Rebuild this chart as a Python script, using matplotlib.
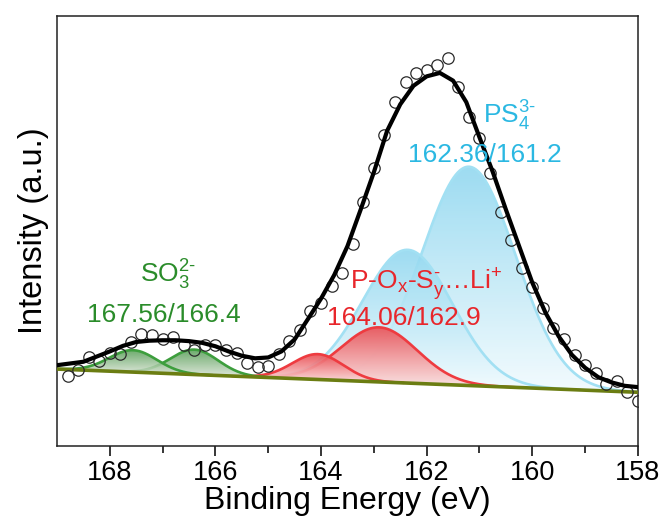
import numpy as np
import matplotlib
matplotlib.use("Agg")
import matplotlib.pyplot as plt
from matplotlib.colors import to_rgb

plt.rcParams['font.family'] = ['Liberation Sans', 'DejaVu Sans']
plt.rcParams['mathtext.fontset'] = 'custom'
plt.rcParams['mathtext.rm'] = 'Liberation Sans'
plt.rcParams['mathtext.it'] = 'Liberation Sans:italic'
plt.rcParams['mathtext.bf'] = 'Liberation Sans:bold'

# Measured S 2p spectrum (binding energy in eV, intensity in a.u.)
energy = [168.8, 168.6, 168.4, 168.2, 168.0, 167.8, 167.6, 167.4, 167.2, 167.0,
          166.8, 166.6, 166.4, 166.2, 166.0, 165.8, 165.6, 165.4, 165.2, 165.0,
          164.8, 164.6, 164.4, 164.2, 164.0, 163.8, 163.6, 163.4, 163.2, 163.0,
          162.8, 162.6, 162.4, 162.2, 162.0, 161.8, 161.6, 161.4, 161.2, 161.0,
          160.8, 160.6, 160.4, 160.2, 160.0, 159.8, 159.6, 159.4, 159.2, 159.0,
          158.8, 158.6, 158.4, 158.2, 158.0]
intensity = [16.2, 17.7, 20.7, 19.8, 21.6, 21.5, 24.1, 26.0, 25.8, 24.8,
             25.3, 23.5, 22.3, 23.6, 23.5, 22.3, 21.6, 19.4, 18.3, 18.6,
             21.5, 24.4, 27.1, 31.5, 33.3, 37.2, 40.3, 47.0, 56.8, 64.6,
             72.3, 80.1, 84.7, 86.7, 87.4, 88.6, 90.2, 83.6, 76.6, 71.6,
             63.6, 54.5, 47.9, 41.3, 37.0, 32.0, 27.4, 25.0, 21.2, 18.8,
             16.9, 14.5, 15.2, 12.5, 10.5]

# Fitted envelope
env_energy = [169.0, 168.75, 168.5, 168.25, 168.0, 167.75, 167.5, 167.25, 167.0,
              166.75, 166.5, 166.25, 166.0, 165.75, 165.5, 165.25, 165.0, 164.75,
              164.5, 164.25, 164.0, 163.75, 163.5, 163.25, 163.0, 162.75, 162.5,
              162.25, 162.0, 161.75, 161.5, 161.25, 161.0, 160.75, 160.5, 160.25,
              160.0, 159.75, 159.5, 159.25, 159.0, 158.75, 158.5, 158.25, 158.0]
env_fit = [18.8, 19.2, 19.6, 20.8, 22.0, 23.3, 24.2, 24.5, 24.6,
           24.6, 24.4, 24.0, 23.2, 22.0, 21.0, 20.4, 20.6, 22.0,
           24.8, 29.5, 34.3, 39.8, 46.5, 55.0, 63.7, 73.3, 79.5,
           83.8, 86.0, 86.8, 85.0, 80.0, 71.8, 63.8, 55.0, 46.5,
           38.0, 31.0, 25.5, 21.2, 18.2, 16.0, 14.8, 14.0, 13.7]

# Linear background (intensity at 169 eV and at 158 eV)
bg_energy = [169.0, 158.0]
bg_level = [17.9, 12.5]

# Fitted components: centre (eV), height above background, gaussian sigma (eV)
comp_center = [161.2, 162.36, 162.9, 164.06, 166.4, 167.56]
comp_height = [50.9, 31.0, 12.7, 5.9, 5.8, 5.1]
comp_sigma = [0.88, 0.85, 0.72, 0.48, 0.45, 0.45]
comp_group = ['PS4', 'PS4', 'POS', 'POS', 'SO3', 'SO3']

group_line = {'SO3': '#3d9e3d', 'POS': '#ee3b40', 'PS4': '#a2e0f3'}
# (top colour, bottom colour, alpha) of the vertical gradient under each peak
group_grad = {'SO3': ('#4f9a4f', '#dfe6da', 0.85),
              'POS': ('#ea4f54', '#fbe1e1', 0.92),
              'PS4': ('#92d8f0', '#f2fbfe', 0.9)}
group_z = {'PS4': 1.0, 'POS': 1.4, 'SO3': 1.8}

fig = plt.figure(figsize=(6.68, 5.22), dpi=100)
ax = fig.add_axes([0.0853, 0.1456, 0.8697, 0.8234])

xs = np.linspace(169.0, 158.0, 1101)
bg = np.interp(xs, bg_energy[::-1], bg_level[::-1])


def gradient_fill(x, ylow, yhigh, top, bottom, alpha, z):
    poly = ax.fill_between(x, ylow, yhigh, facecolor='none', edgecolor='none')
    path = poly.get_paths()[0]
    n = 256
    t = np.linspace(0, 1, n)[:, None]
    img = np.zeros((n, 1, 4))
    img[:, 0, :3] = (1 - t) * np.array(to_rgb(bottom)) + t * np.array(to_rgb(top))
    img[:, 0, 3] = alpha
    im = ax.imshow(img, extent=[x.min(), x.max(), ylow.min(), yhigh.max()],
                   origin='lower', aspect='auto', zorder=z, interpolation='bilinear')
    im.set_clip_path(path, transform=ax.transData)


for i, (c, h, s, g) in enumerate(zip(comp_center, comp_height, comp_sigma, comp_group)):
    peak = h * np.exp(-(xs - c) ** 2 / (2 * s ** 2))
    mask = peak > 0.02
    xm, bm, ym = xs[mask], bg[mask], (bg + peak)[mask]
    top, bottom, alpha = group_grad[g]
    z = group_z[g] + 0.05 * i
    gradient_fill(xm, bm, ym, top, bottom, alpha, z)
    ax.plot(xm, ym, color=group_line[g], lw=1.9, zorder=z + 0.02)

ax.plot(bg_energy, bg_level, color='#6b7d12', lw=2.6, zorder=3, solid_capstyle='butt')

ax.plot(energy, intensity, linestyle='none', marker='o', markersize=8.2,
        markerfacecolor='none', markeredgecolor='#2a2a2a', markeredgewidth=0.9, zorder=4)
ax.plot(env_energy, env_fit, color='black', lw=3.0, zorder=5,
        solid_joinstyle='round', solid_capstyle='round')

ax.set_xlim(169, 158)
ax.set_ylim(0, 100)
ax.set_xticks([168, 166, 164, 162, 160, 158])
ax.set_xticks([167, 165, 163, 161, 159], minor=True)
ax.set_yticks([])
ax.tick_params(axis='x', which='major', direction='out', length=7, width=1.1,
               labelsize=19.5, pad=3)
ax.tick_params(axis='x', which='minor', direction='out', length=5, width=1.1)
for sp in ax.spines.values():
    sp.set_linewidth(1.1)
    sp.set_color('#222222')

ax.set_xlabel('Binding Energy (eV)', fontsize=23, labelpad=0)
ax.set_ylabel('Intensity (a.u.)', fontsize=23.5, labelpad=6)

green_txt = '#2a8c2a'
red_txt = '#e8262b'
cyan_txt = '#2bb8e2'
ax.text(167.43, 37.9, r'SO$_\mathregular{3}^\text{2-}$', color=green_txt,
        fontsize=19, ha='left', va='baseline', zorder=6)
ax.text(168.43, 28.8, '167.56/166.4', color=green_txt, fontsize=19,
        ha='left', va='baseline', zorder=6)
ax.text(160.93, 75.1, r'PS$_\mathregular{4}^\text{3-}$', color=cyan_txt,
        fontsize=19, ha='left', va='baseline', zorder=6)
ax.text(162.35, 66.0, '162.36/161.2', color=cyan_txt, fontsize=19,
        ha='left', va='baseline', zorder=6)
ax.text(163.45, 36.3,
        r'P-O$_\mathregular{x}$-S$_\mathregular{y}^\text{-}$…Li$^\mathregular{+}$',
        color=red_txt, fontsize=19, ha='left', va='baseline', zorder=6)
ax.text(163.89, 28.1, '164.06/162.9', color=red_txt, fontsize=19,
        ha='left', va='baseline', zorder=6)

fig.savefig('out.png', dpi=100)
